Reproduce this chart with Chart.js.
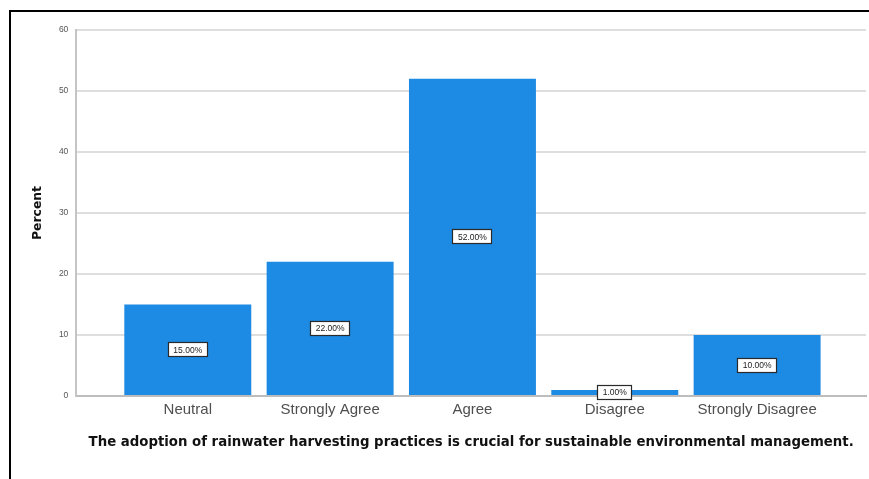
<!DOCTYPE html>
<html>
<head>
<meta charset="utf-8">
<script src="https://cdn.jsdelivr.net/npm/chart.js@4/dist/chart.umd.min.js"></script>
<style>
  html, body { margin: 0; padding: 0; background: #fff; }
  #wrap { position: relative; width: 869px; height: 479px; overflow: hidden; }
  #frame { position: absolute; left: 9px; top: 10px; width: 900px; height: 500px;
           border-left: 2px solid #000; border-top: 2px solid #000; pointer-events: none; }
  canvas { position: absolute; left: 0; top: 0; }
</style>
</head>
<body>
<div id="wrap">
  <canvas id="c" width="869" height="479"></canvas>
  <div id="frame"></div>
</div>
<script>
const categories = ["Neutral", "Strongly Agree", "Agree", "Disagree", "Strongly Disagree"];
const percentValues = [15.00, 22.00, 52.00, 1.00, 10.00];
const yTicks = [0, 10, 20, 30, 40, 50, 60];
const xAxisTitle = "The adoption of rainwater harvesting practices is crucial for sustainable environmental management.";
const yAxisTitle = "Percent";

const labelPlugin = {
  id: 'boxLabels',
  afterDatasetsDraw(chart) {
    const ctx = chart.ctx;
    const meta = chart.getDatasetMeta(0);
    ctx.save();
    ctx.font = '8.5px "Liberation Sans", Arial, sans-serif';
    ctx.textAlign = 'center';
    ctx.textBaseline = 'middle';
    meta.data.forEach((bar, i) => {
      const text = percentValues[i].toFixed(2) + '%';
      const cx = bar.x;
      const cy = (bar.y + bar.base) / 2;
      const w = Math.round(ctx.measureText(text).width + 11);
      const h = 15;
      const x0 = Math.round(cx - w / 2), y0 = Math.round(cy - h / 2);
      ctx.fillStyle = '#ffffff';
      ctx.fillRect(x0, y0, w, h);
      ctx.strokeStyle = '#2a2a2a';
      ctx.lineWidth = 1.2;
      ctx.strokeRect(x0 + 0.5, y0 + 0.5, w - 1, h - 1);
      ctx.fillStyle = '#222222';
      ctx.fillText(text, cx, cy + 0.5);
    });
    ctx.restore();
  }
};

new Chart(document.getElementById('c'), {
  type: 'bar',
  data: {
    datasets: [{
      data: percentValues.map((v, i) => ({ x: i, y: v })),
      backgroundColor: '#1d8ae3',
      borderWidth: 0,
      categoryPercentage: 1.0,
      barPercentage: 0.892
    }]
  },
  options: {
    responsive: false,
    animation: false,
    events: [],
    layout: { padding: { left: 30, right: 3, top: 30, bottom: 28 } },
    plugins: { legend: { display: false }, tooltip: { enabled: false } },
    scales: {
      x: {
        type: 'linear',
        offset: false,
        min: -0.783,
        max: 4.765,
        afterBuildTicks: (s) => { s.ticks = s.ticks.filter(t => Number.isInteger(t.value) && t.value >= 0 && t.value < categories.length); },
        ticks: {
          stepSize: 1,
          autoSkip: false,
          maxRotation: 0,
          padding: 5,
          color: '#4f4f4f',
          font: { family: '"Liberation Sans", Arial, sans-serif', size: 15 },
          callback: (v) => categories[v] ?? ''
        },
        grid: { display: false, drawTicks: false },
        border: { display: true, color: '#bdbdbd', width: 2 },
        title: {
          display: true,
          text: xAxisTitle,
          color: '#111',
          font: { family: '"DejaVu Sans", sans-serif', size: 13.3, weight: 'bold' },
          padding: { top: 11, bottom: 0 }
        }
      },
      y: {
        min: 0,
        max: 60,
        afterBuildTicks: (s) => { s.ticks = yTicks.map(v => ({ value: v })); },
        ticks: {
          stepSize: 10,
          padding: 8,
          color: '#555',
          font: { family: '"Liberation Sans", Arial, sans-serif', size: 8.5 }
        },
        grid: { color: '#dedede', lineWidth: 2, drawTicks: false },
        border: { display: true, color: '#c4c4c4', width: 2 },
        title: {
          display: true,
          text: yAxisTitle,
          color: '#111',
          font: { family: '"DejaVu Sans", sans-serif', size: 12.4, weight: 'bold' },
          padding: { top: 0, bottom: 6 }
        }
      }
    }
  },
  plugins: [labelPlugin]
});
</script>
</body>
</html>
